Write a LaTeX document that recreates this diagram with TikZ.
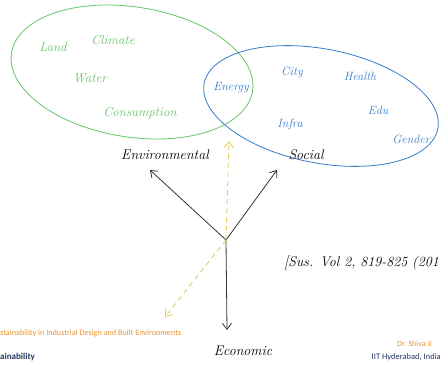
\documentclass[tikz,border=0pt]{standalone}
\usepackage{fontspec}
\newfontfamily\slidefont{Carlito}
\usetikzlibrary{arrows.meta, positioning}

\definecolor{penGreen}{RGB}{105,195,105}
\definecolor{penBlue}{RGB}{55,125,205}
\definecolor{penYellow}{RGB}{222,200,90}
\definecolor{slideOrange}{RGB}{232,150,50}
\definecolor{slideBlue}{RGB}{35,55,95}

\begin{document}
\begin{tikzpicture}[
		x=1pt, y=-1pt,
		% Styles for the pen strokes
		pen/.style={line width=0.8pt},
		bubble-env/.style={pen, draw=penGreen},
		bubble-soc/.style={pen, draw=penBlue},
		pillar/.style={pen, draw=black!80, -{Straight Barb[length=6pt, width=9pt]}},
		overlap/.style={pen, draw=penYellow, dashed, dash pattern=on 5pt off 4pt, -{Straight Barb[length=6pt, width=9pt]}},
		% Handwritten words
		envWord/.style={text=penGreen, font=\fontsize{13}{13}\selectfont\itshape, inner sep=1pt},
		socWord/.style={text=penBlue, font=\fontsize{12}{12}\selectfont\itshape, inner sep=1pt},
		pillarWord/.style={text=black, font=\fontsize{14}{14}\selectfont\itshape, inner sep=1pt},
		% Slide footer
		footer/.style={font=\slidefont\fontsize{8}{8}\selectfont, inner sep=0pt}
		]
		
		\clip (0,0) rectangle (446,364);
		\fill[white] (0,0) rectangle (446,364);
		
		% Bubbles
		\draw[bubble-env, rotate around={-9:(132,72)}] (132,72) ellipse [x radius=122pt, y radius=65pt];
		\draw[bubble-soc, rotate around={-11:(321,106)}] (321,106) ellipse [x radius=119pt, y radius=57pt];
		
		% Environmental words
		\node[envWord] (land) at (53,47) {Land};
		\node[envWord] (climate) at (113,40) {Climate};
		\node[envWord] (water) at (90,78) {Water};
		\node[envWord] (consumption) at (140,113) {Consumption};
		
		% Social words
		\node[socWord] (energy) at (231,88) {Energy};
		\node[socWord] (city) at (292,72) {City};
		\node[socWord] (health) at (360,76) {Health};
		\node[socWord] (infra) at (290,124) {Infra};
		\node[socWord] (edu) at (378,110) {Edu};
		\node[socWord] (gender) at (411,139) {Gender};
		
		% Pillars
		\coordinate (hub) at (226,240);
		\node[pillarWord] (env) at (165,155) {Environmental};
		\node[pillarWord] (soc) at (306,155) {Social};
		\node[pillarWord] (eco) at (243,351) {Economic};
		\coordinate (envTip) at (150,170);
		\coordinate (socTip) at (277,170);
		\coordinate (ecoTip) at (227,330);
		\draw[pillar] (hub) -- (envTip);
		\draw[pillar] (hub) -- (socTip);
		\draw[pillar] (hub) -- (ecoTip);
		
		% Overlap arrows
		\coordinate (upTip) at (229,141);
		\coordinate (downTip) at (165,317);
		\draw[overlap] (hub) -- (upTip);
		\draw[overlap] (hub) -- (downTip);
		
		% Reference
		\node[pillarWord, anchor=west, font=\fontsize{14}{14}\selectfont\itshape] (ref) at (283,263) {[Sus. Vol 2, 819-825 (201};
		
		% Footer
		\node[footer, text=slideOrange, anchor=west, font=\slidefont\fontsize{8.2}{9}\selectfont] (course) at (0,333) {stainability in Industrial Design and Built Environments};
		\node[footer, text=slideBlue, anchor=west, font=\slidefont\bfseries\fontsize{9}{9}\selectfont] (brand) at (0,357) {ainability};
		\node[footer, text=slideOrange, anchor=east] (author) at (432,344) {Dr. Shiva Ji};
		\node[footer, text=slideBlue, anchor=east, font=\slidefont\fontsize{8.5}{9}\selectfont] (inst) at (441,357) {IIT Hyderabad, India};
	\end{tikzpicture}
\end{document}
